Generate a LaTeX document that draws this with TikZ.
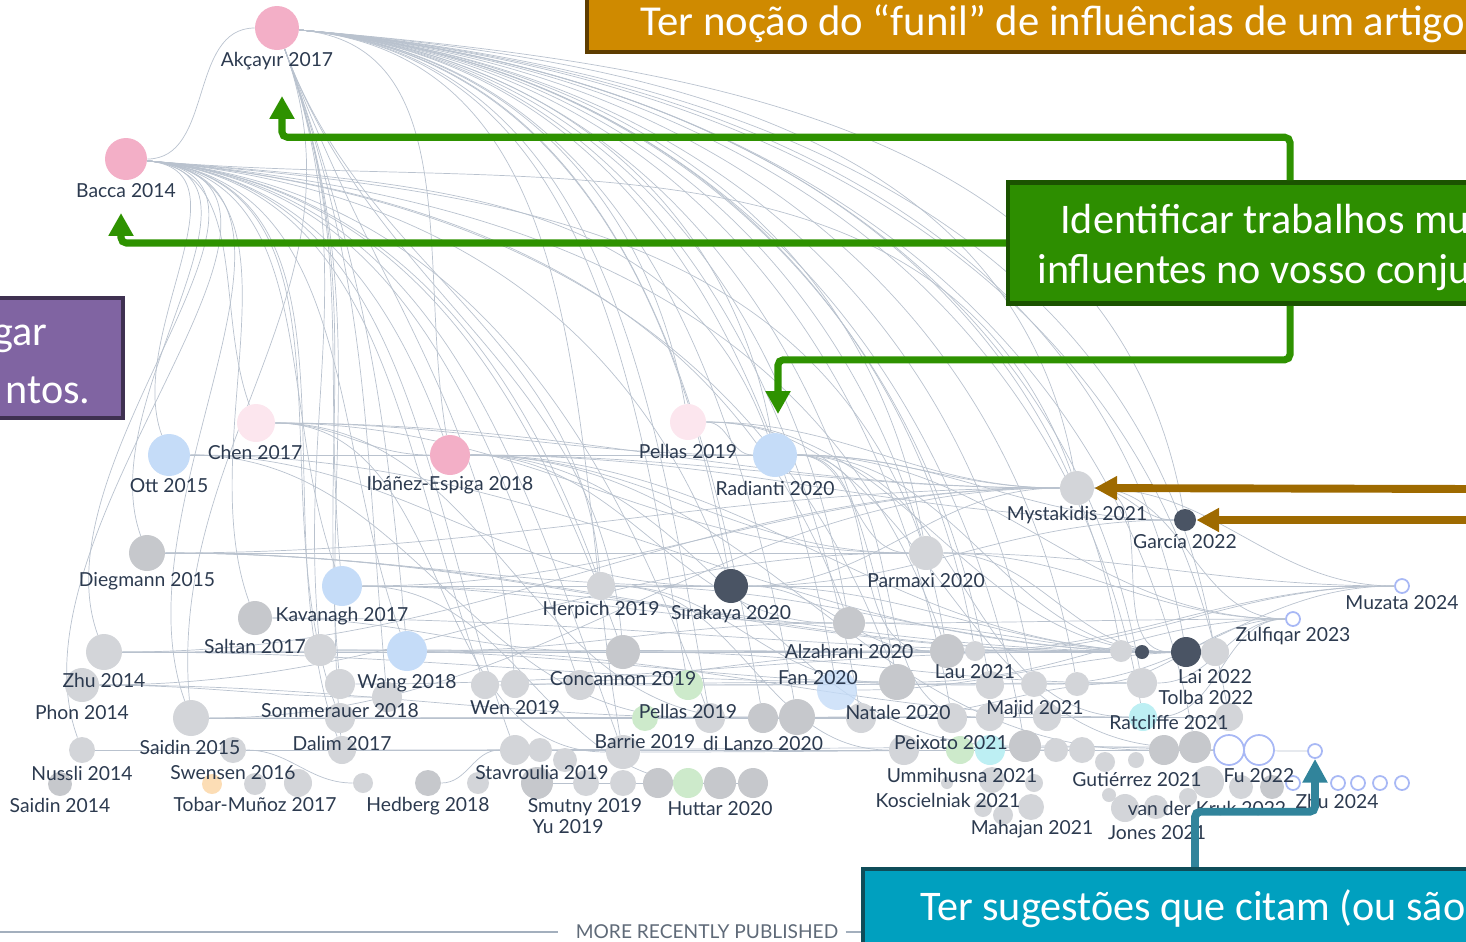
\documentclass[tikz,border=0pt]{standalone}
\usepackage{fontspec}
\setmainfont{Lato}
\newfontfamily\boxfont{Carlito}
\usetikzlibrary{arrows.meta,backgrounds}

\definecolor{citecol}{HTML}{B9C2CE}
\definecolor{lblcol}{HTML}{2C3A4F}
\definecolor{grayA}{HTML}{D3D5D9}
\definecolor{grayB}{HTML}{C6C8CC}
\definecolor{slate}{HTML}{4A5464}
\definecolor{pinkA}{HTML}{F3AFC7}
\definecolor{pinkB}{HTML}{FCE6EE}
\definecolor{blueA}{HTML}{C5DCF8}
\definecolor{greenA}{HTML}{CDEACB}
\definecolor{cyanA}{HTML}{BDEFF3}
\definecolor{orangeA}{HTML}{FCDDB5}
\definecolor{hollowcol}{HTML}{A8B8F5}
\definecolor{axiscol}{HTML}{A3AFBD}
\definecolor{axistext}{HTML}{5F6A78}
\definecolor{ofill}{HTML}{CF8A00}
\definecolor{oborder}{HTML}{5E3D00}
\definecolor{oarrowcol}{HTML}{9E6A00}
\definecolor{gfill}{HTML}{2D8E00}
\definecolor{gborder}{HTML}{1B5300}
\definecolor{garrowcol}{HTML}{2E9200}
\definecolor{tfill}{HTML}{00A0BF}
\definecolor{tborder}{HTML}{0F4D59}
\definecolor{tarrowcol}{HTML}{31849B}
\definecolor{pfill}{HTML}{8064A2}
\definecolor{pborder}{HTML}{3F3151}

\begin{document}
\begin{tikzpicture}[x=0.02cm, y=-0.02cm,
    paper/.style={circle, inner sep=0pt, minimum size=#1*0.4mm},
    hollow/.style={draw=hollowcol, fill=white, line width=1pt},
    lbl/.style={font=\fontsize{11}{13}\selectfont, text=lblcol, inner sep=0pt},
    cite/.style={draw=citecol, line width=0.4pt},
    callout/.style={font=\boxfont\fontsize{24}{28}\selectfont, text=white, inner sep=0pt, anchor=base west},
    garrow/.style={draw=garrowcol, line width=4pt, rounded corners=3pt, -{Triangle[length=13pt,width=13.5pt]}},
    oarrow/.style={draw=oarrowcol, line width=4.5pt, -{Triangle[length=13pt,width=13pt]}},
    tarrow/.style={draw=tarrowcol, line width=4.5pt, rounded corners=3pt, -{Triangle[length=13.5pt,width=13.5pt]}}]
    \useasboundingbox (0,0) rectangle (1466,941);
    \clip (0,0) rectangle (1466,941);

    % papers of the graph
    \node[paper=22, fill=pinkA] (akc) at (277,28) {};
    \node[paper=21, fill=pinkA] (bac) at (126,159) {};
    \node[paper=19, fill=pinkB] (chen) at (256,423) {};
    \node[paper=21, fill=blueA] (ott) at (169,455) {};
    \node[paper=20, fill=pinkA] (ibe) at (450,455) {};
    \node[paper=18, fill=pinkB] (pel1) at (688,422) {};
    \node[paper=22, fill=blueA] (rad) at (775,455) {};
    \node[paper=17, fill=grayA] (mys) at (1077,488) {};
    \node[paper=11, fill=slate] (gar) at (1185,520) {};
    \node[paper=18, fill=grayB] (die) at (147,553) {};
    \node[paper=17, fill=grayA] (par) at (926,553) {};
    \node[paper=20, fill=blueA] (kav) at (342,586) {};
    \node[paper=14, fill=grayA] (her) at (601,586) {};
    \node[paper=17, fill=slate] (sir) at (731,586) {};
    \node[paper=17, fill=grayB] (sal) at (255,618) {};
    \node[paper=16, fill=grayB] (alz) at (849,623) {};
    \node[paper=18, fill=grayA] (zhu) at (104,652) {};
    \node[paper=16, fill=grayA] (sal2) at (320,650) {};
    \node[paper=20, fill=blueA] (wan) at (407,651) {};
    \node[paper=17, fill=grayB] (con) at (623,652) {};
    \node[paper=17, fill=grayB] (lau) at (947,651) {};
    \node[paper=10, fill=grayA] (lau2) at (975,651) {};
    \node[paper=11, fill=grayA] (lai0) at (1121,651) {};
    \node[paper=7, fill=slate] (lai1) at (1142,652) {};
    \node[paper=15, fill=slate] (lai) at (1186,652) {};
    \node[paper=14, fill=grayA] (lai2) at (1215,652) {};
    \node[paper=17, fill=grayA] (phon) at (82,685) {};
    \node[paper=15, fill=grayA] (som1) at (340,684) {};
    \node[paper=15, fill=grayA] (som2) at (387,697) {};
    \node[paper=14, fill=grayA] (wen1) at (485,685) {};
    \node[paper=14, fill=grayA] (wen2) at (515,684) {};
    \node[paper=15, fill=grayA] (con2) at (580,685) {};
    \node[paper=15, fill=greenA] (pgr) at (688,685) {};
    \node[paper=20, fill=blueA, fill opacity=0.8] (fan) at (837,690) {};
    \node[paper=18, fill=grayB] (nat) at (897,682) {};
    \node[paper=14, fill=grayA] (maj1) at (990,685) {};
    \node[paper=13, fill=grayA] (maj2) at (1034,684) {};
    \node[paper=12, fill=grayA] (maj3) at (1077,684) {};
    \node[paper=15, fill=grayA] (tol) at (1142,683) {};
    \node[paper=18, fill=grayA] (sai) at (191,718) {};
    \node[paper=15, fill=grayA] (som) at (340,718) {};
    \node[paper=13, fill=greenA] (pgr2) at (645,718) {};
    \node[paper=15, fill=grayA] (pel2) at (710,718) {};
    \node[paper=15, fill=grayB] (dil1) at (763,718) {};
    \node[paper=18, fill=grayB] (dil2) at (797,717) {};
    \node[paper=15, fill=grayA] (nat2) at (861,718) {};
    \node[paper=15, fill=grayA] (pei0) at (952,718) {};
    \node[paper=14, fill=grayA] (maj4) at (990,717) {};
    \node[paper=14, fill=grayA] (maj5) at (1047,717) {};
    \node[paper=14, fill=cyanA] (rat) at (1143,717) {};
    \node[paper=14, fill=grayA] (rat2) at (1229,717) {};
    \node[paper=13, fill=grayA] (nus) at (82,750) {};
    \node[paper=13, fill=grayA] (swe) at (233,750) {};
    \node[paper=14, fill=grayA] (dal) at (342,750) {};
    \node[paper=15, fill=grayA] (sta1) at (515,750) {};
    \node[paper=12, fill=grayA] (sta2) at (540,750) {};
    \node[paper=12, fill=grayA] (sta3) at (565,760) {};
    \node[paper=17, fill=grayA] (bar) at (623,752) {};
    \node[paper=15, fill=grayA] (pei1) at (904,750) {};
    \node[paper=14, fill=greenA] (pei2) at (960,750) {};
    \node[paper=15, fill=cyanA] (pei3) at (990,750) {};
    \node[paper=16, fill=grayB] (pei4) at (1025,746) {};
    \node[paper=12, fill=grayA] (pei5) at (1056,750) {};
    \node[paper=13, fill=grayA] (pei6) at (1082,750) {};
    \node[paper=10, fill=grayA] (gut1) at (1105,762) {};
    \node[paper=8, fill=grayA] (gut2) at (1136,760) {};
    \node[paper=15, fill=grayB] (fu1) at (1164,750) {};
    \node[paper=16, fill=grayB] (fu2) at (1195,747) {};
    \node[paper=15, hollow] (fu3) at (1229,750) {};
    \node[paper=15, hollow] (fu4) at (1259,750) {};
    \node[paper=7, hollow] (zhu24) at (1315,751) {};
    \node[paper=12, fill=grayB] (sai14) at (60,784) {};
    \node[paper=10, fill=orangeA] (tob0) at (212,784) {};
    \node[paper=11, fill=grayA] (tob) at (255,784) {};
    \node[paper=14, fill=grayA] (tob2) at (298,783) {};
    \node[paper=10, fill=grayA] (hed0) at (363,783) {};
    \node[paper=13, fill=grayB] (hed) at (428,783) {};
    \node[paper=11, fill=grayA] (sm0) at (478,783) {};
    \node[paper=16, fill=grayB] (sm1) at (537,783) {};
    \node[paper=13, fill=grayA] (sm2) at (586,783) {};
    \node[paper=13, fill=grayA] (sm3) at (623,783) {};
    \node[paper=15, fill=grayB] (hut1) at (658,783) {};
    \node[paper=15, fill=greenA] (hut2) at (688,783) {};
    \node[paper=16, fill=grayB] (hut3) at (720,783) {};
    \node[paper=15, fill=grayB] (hut4) at (753,783) {};
    \node[paper=6, fill=grayA] (umm1) at (947,783) {};
    \node[paper=13, fill=grayA] (umm2) at (992,780) {};
    \node[paper=9, fill=grayA] (umm3) at (1034,783) {};
    \node[paper=9, fill=grayA] (kos1) at (983,808) {};
    \node[paper=13, fill=grayA] (mah1) at (1031,807) {};
    \node[paper=10, fill=grayA] (mah2) at (1003,815) {};
    \node[paper=7, fill=grayA] (gut3) at (1109,795) {};
    \node[paper=14, fill=grayA] (jon1) at (1125,808) {};
    \node[paper=12, fill=grayA] (jon2) at (1156,807) {};
    \node[paper=9, fill=grayA] (vdk0) at (1188,797) {};
    \node[paper=16, fill=grayA] (vdk1) at (1208,782) {};
    \node[paper=12, fill=grayA] (vdk2) at (1241,787) {};
    \node[paper=12, fill=grayB] (vdk3) at (1272,787) {};
    \node[paper=7, hollow] (z1) at (1293,783) {};
    \node[paper=7, hollow] (z2) at (1338,783) {};
    \node[paper=7, hollow] (z3) at (1358,783) {};
    \node[paper=7, hollow] (z4) at (1380,783) {};
    \node[paper=7, hollow] (z5) at (1402,783) {};
    \node[paper=7, hollow] (zul) at (1293,619) {};
    \node[paper=7, hollow] (muz) at (1402,586) {};

    % citation links
    \begin{pgfonlayer}{background}
    \draw[cite] (akc) to[out=180,in=0] (bac);
    \foreach \t in {kav,wan,som1,dal,sal2,her,con,wen2,som2,sai}
        \draw[cite] (akc) to[out=-70,in=95] (\t);
    \foreach \t in {ibe,pel1,rad,mys,par,sir,alz,lau,lai,gar,nat,fan,dil2,pel2,maj2,tol,rat,lai0,bar,pei4,fu2,lau2,maj1,nat2,dil1,pgr,pei0,rat2,lai2,maj3}
        \draw[cite] (akc) to[out=-5,in=100] (\t);
    \foreach \t in {chen,ott,die,sal,zhu,sai,kav,wan,ibe,her,sir,con,wen1,pel2,rad,par,mys,alz,lau,dal,nus,som,con2,sta1,bar,nat}
        \draw[cite] (bac) to[out=-5,in=110] (\t);
    \foreach \s/\t in {chen/ibe,chen/rad,chen/mys,chen/par,chen/bar,chen/dil1,ott/ibe,ott/rad,ott/sir,ott/lai,ott/pel2,
        ibe/rad,ibe/mys,ibe/par,ibe/lai,ibe/gar,ibe/alz,ibe/pei4,ibe/fu1,pel1/rad,pel1/mys,pel1/lai,pel1/fu2,
        rad/mys,rad/gar,rad/lai,rad/lau,rad/par,rad/zul,rad/maj4,rad/rat,die/par,die/mys,die/sir,die/lai0,die/lai1,
        kav/sir,kav/lai,kav/alz,kav/mys,kav/hut3,her/lai,her/nat,her/pei1,sir/lai,sir/lau,sir/gar,sir/mys,sir/muz,
        par/muz,par/zul,par/lai,sal/con,sal/lai1,sal2/lau,sal2/maj1,zhu/wan,zhu/con,zhu/nat,zhu/mys,wan/lai,wan/alz,
        wan/rat,con/lai,con/tol,phon/som2,phon/dil1,phon/par,sai/nat2,sai/maj4,sai/mys,nus/dal,nus/fu1,dal/fu2,
        dal/pei1,sta1/fu3,mys/lai,mys/zul,mys/muz,mys/gar,alz/zul,alz/lai,lau/lai,lau/muz,nat/zul,maj2/muz,tol/zul,
        rat/zul,fu1/zhu24,pei4/fu4,som/dil2,wen1/lau,con2/maj3,pgr/tol,fan/lai2,som1/lai0,wen2/nat,bar/pei6,
        sta2/fu1,dil2/rat2,nat2/tol,lau2/muz,maj3/zul,sm1/hut4,hed/sta1,swe/hed0}
        \draw[cite] (\s) to[out=0,in=180] (\t);
    \end{pgfonlayer}

    % paper labels
    \node[lbl] (akcL) at (277,61) {Akçayır 2017};
    \node[lbl] (bacL) at (126,191) {Bacca 2014};
    \node[lbl] (chenL) at (255,452) {Chen 2017};
    \node[lbl] (ottL) at (169,486) {Ott 2015};
    \node[lbl] (ibeL) at (450,485) {Ibáñez-Espiga 2018};
    \node[lbl] (pel1L) at (688,451) {Pellas 2019};
    \node[lbl] (radL) at (775,488) {Radianti 2020};
    \node[lbl] (mysL) at (1077,515) {Mystakidis 2021};
    \node[lbl] (garL) at (1185,542) {García 2022};
    \node[lbl] (dieL) at (147,581) {Diegmann 2015};
    \node[lbl] (parL) at (926,581) {Parmaxi 2020};
    \node[lbl] (kavL) at (342,616) {Kavanagh 2017};
    \node[lbl] (herL) at (601,610) {Herpich 2019};
    \node[lbl] (sirL) at (731,614) {Sırakaya 2020};
    \node[lbl] (salL) at (255,646) {Saltan 2017};
    \node[lbl] (alzL) at (849,651) {Alzahrani 2020};
    \node[lbl] (zhuL) at (104,680) {Zhu 2014};
    \node[lbl] (wanL) at (407,683) {Wang 2018};
    \node[lbl] (conL) at (623,679) {Concannon 2019};
    \node[lbl] (lauL) at (975,672) {Lau 2021};
    \node[lbl] (fanL) at (818,678) {Fan 2020};
    \node[lbl] (laiL) at (1215,677) {Lai 2022};
    \node[lbl] (phonL) at (82,712) {Phon 2014};
    \node[lbl] (somL) at (340,711) {Sommerauer 2018};
    \node[lbl] (wenL) at (515,708) {Wen 2019};
    \node[lbl] (pel2L) at (688,711) {Pellas 2019};
    \node[lbl] (natL) at (898,712) {Natale 2020};
    \node[lbl] (majL) at (1035,709) {Majid 2021};
    \node[lbl] (tolL) at (1206,697) {Tolba 2022};
    \node[lbl] (ratL) at (1169,722) {Ratcliffe 2021};
    \node[lbl] (saiL) at (190,747) {Saidin 2015};
    \node[lbl] (dalL) at (342,743) {Dalim 2017};
    \node[lbl] (barL) at (645,742) {Barrie 2019};
    \node[lbl] (dilL) at (763,743) {di Lanzo 2020};
    \node[lbl] (peiL) at (951,743) {Peixoto 2021};
    \node[lbl] (nusL) at (82,773) {Nussli 2014};
    \node[lbl] (sweL) at (233,773) {Swensen 2016};
    \node[lbl] (staL) at (542,772) {Stavroulia 2019};
    \node[lbl] (ummL) at (962,775) {Ummihusna 2021};
    \node[lbl] (gutL) at (1137,779) {Gutiérrez 2021};
    \node[lbl] (fuL) at (1259,776) {Fu 2022};
    \node[lbl] (sai14L) at (60,805) {Saidin 2014};
    \node[lbl] (tobL) at (255,804) {Tobar-Muñoz 2017};
    \node[lbl] (hedL) at (428,806) {Hedberg 2018};
    \node[lbl] (smuL) at (585,807) {Smutny 2019};
    \node[lbl] (hutL) at (720,809) {Huttar 2020};
    \node[lbl] (kosL) at (948,800) {Koscielniak 2021};
    \node[lbl] (vdkL) at (1207,808) {van der Kruk 2022};
    \node[lbl] (zhu24L) at (1337,801) {Zhu 2024};
    \node[lbl] (mahL) at (1032,829) {Mahajan 2021};
    \node[lbl] (yuL) at (568,827) {Yu 2019};
    \node[lbl] (jonL) at (1157,833) {Jones 2021};
    \node[lbl] (zulL) at (1293,636) {Zulfiqar 2023};
    \node[lbl] (muzL) at (1402,603) {Muzata 2024};

    % time axis
    \node[font=\fontsize{10.9}{12}\selectfont, text=axistext, inner sep=0pt] (recent) at (707,932) {MORE RECENTLY PUBLISHED};
    \draw[axiscol, line width=0.7pt] (0,932) -- ([xshift=-10pt]recent.west);
    \draw[axiscol, line width=0.7pt] ([xshift=4pt]recent.east) -- (866,932);

    % callout boxes
    \node[draw=oborder, fill=ofill, line width=2.6pt, minimum width=1000*0.2mm, minimum height=100*0.2mm] (funnel) at (1087,2) {};
    \node[callout, font=\boxfont\fontsize{24.3}{28}\selectfont] (funnelT) at (640,35) {Ter noção do “funil” de influências de um artigo};
    \node[draw=gborder, fill=gfill, line width=2.6pt, minimum width=564*0.2mm, minimum height=121*0.2mm] (ident) at (1290,243) {};
    \node[callout] (identA) at (1060,233) {Identificar trabalhos mu};
    \node[callout] (identB) at (1037,283) {influentes no vosso conju};
    \node[draw=pborder, fill=pfill, line width=2.6pt, minimum width=300*0.2mm, minimum height=120*0.2mm] (locate) at (-27,358) {};
    \node[callout, anchor=base east] (locateA) at (48,345) {gar};
    \node[callout, anchor=base east] (locateB) at (91,403) {ntos.};
    \node[draw=tborder, fill=tfill, line width=2.6pt, minimum width=664*0.2mm, minimum height=120*0.2mm] (sugg) at (1195,929) {};
    \node[callout] (suggT) at (920,920) {Ter sugestões que citam (ou são};

    % arrows
    \coordinate (akcTip) at (282,96);
    \coordinate (bacTip) at (121,213);
    \coordinate (radTip) at (778,414);
    \coordinate (east1) at (1480,489);
    \coordinate (east2) at (1480,520);
    \draw[garrow] (ident.north) -- ++(0,-43) -| (akcTip);
    \draw[garrow] (ident.west) -| (bacTip);
    \draw[garrow] (ident.south) -- ++(0,54) -| (radTip);
    \draw[oarrow] (east1) -- (mys);
    \draw[oarrow] (east2) -- (gar);
    \draw[tarrow] (sugg.north) -- ++(0,-55) -| (zhu24);
\end{tikzpicture}
\end{document}
